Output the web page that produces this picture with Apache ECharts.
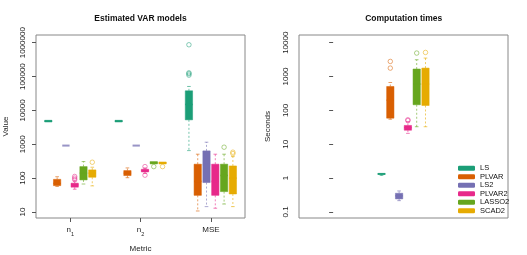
<!DOCTYPE html>
<html>
<head>
<meta charset="utf-8">
<script src="https://cdn.jsdelivr.net/npm/echarts@6/dist/echarts.min.js"></script>
<style>
html,body{margin:0;padding:0;background:#fff;}
#chart{width:527px;height:255px;}
</style>
</head>
<body>
<div id="chart"></div>
<script>
// ---------- data ----------
const metrics = ['n1', 'n2', 'MSE'];
const models = ['LS', 'PLVAR', 'LS2', 'PLVAR2', 'LASSO2', 'SCAD2'];
const leftTicks = [10, 100, 1000, 10000, 100000, 1000000];
const rightTicks = [0.1, 1, 10, 100, 1000, 10000];

// Estimated VAR models: per metric [min, Q1, median, Q3, max]
const estLS     = [[4500, 4550, 4850, 5100, 5150], [4500, 4550, 4850, 5100, 5150], [650, 5270, 15000, 38000, 51000]];
const estPLVAR  = [[57, 60, 70, 92, 110], [103, 119, 140, 167, 200], [10.7, 31, 80, 258, 509]];
const estLS2    = [[915, 915, 915, 915, 915], [915, 915, 915, 915, 915], [14.4, 74, 250, 638, 1150]];
const estPLVAR2 = [[47, 54, 63, 71, 83], [138, 152, 166, 183, 200], [12.9, 31, 80, 258, 509]];
const estLASSO2 = [[67, 88.5, 140, 219, 308], [255, 263, 285, 308, 315], [17.2, 40, 120, 258, 509]];
const estSCAD2  = [[59, 106, 140, 175, 210], [255, 262, 285, 300, 310], [14.4, 34, 100, 229, 433]];

// outliers per metric
const outLS     = [[], [], [870000, 129000, 121000, 110000]];
const outPLVAR  = [[], [], []];
const outLS2    = [[], [], []];
const outPLVAR2 = [[112, 100, 90], [219, 122], []];
const outLASSO2 = [[], [219], [820]];
const outSCAD2  = [[295], [219], [584, 530]];

// Computation times (seconds): [min, Q1, median, Q3, max]
const timeLS     = [1.2, 1.28, 1.33, 1.38, 1.42];
const timePLVAR  = [55, 59, 200, 509, 668];
const timeLS2    = [0.216, 0.243, 0.3, 0.357, 0.418];
const timePLVAR2 = [21, 26, 31, 36, 46];
const timeLASSO2 = [33, 147, 600, 1670, 3140];
const timeSCAD2  = [33, 140, 600, 1780, 3520];

const tOutLS     = [];
const tOutPLVAR  = [2800, 1780];
const tOutLS2    = [];
const tOutPLVAR2 = [53, 50];
const tOutLASSO2 = [4950];
const tOutSCAD2  = [5160];

// ---------- assembly ----------
const colors = ['#1B9E77', '#D95F02', '#7570B3', '#E7298A', '#66A61E', '#E6AB02'];
const estAll = [estLS, estPLVAR, estLS2, estPLVAR2, estLASSO2, estSCAD2];
const outAll = [outLS, outPLVAR, outLS2, outPLVAR2, outLASSO2, outSCAD2];
const timeAll = [timeLS, timePLVAR, timeLS2, timePLVAR2, timeLASSO2, timeSCAD2];
const tOutAll = [tOutLS, tOutPLVAR, tOutLS2, tOutPLVAR2, tOutLASSO2, tOutSCAD2];

const STEP = 0.125, BOXW = 0.104;
const lg = Math.log10;
function rgba(hex, a) {
  const n = parseInt(hex.slice(1), 16);
  return 'rgba(' + ((n >> 16) & 255) + ',' + ((n >> 8) & 255) + ',' + (n & 255) + ',' + a + ')';
}
function offset(i) { return (i - 2.5) * STEP; }

function renderBox(params, api) {
  const x = api.value(0);
  const v = [1, 2, 3, 4, 5].map(k => api.value(k));
  const w = api.size([BOXW, 0])[0];
  const color = api.visual('color');
  const p = v.map(val => api.coord([x, val]));
  const cx = p[0][0];
  const light = rgba(color, 0.6);
  const children = [];
  const dash = {stroke: light, lineWidth: 1, lineDash: [2, 2]};
  const solid = {stroke: light, lineWidth: 1};
  if (p[4][1] < p[3][1] - 0.5) {
    children.push({type: 'line', shape: {x1: cx, y1: p[3][1], x2: cx, y2: p[4][1]}, style: dash});
    children.push({type: 'line', shape: {x1: cx - w / 4, y1: p[4][1], x2: cx + w / 4, y2: p[4][1]}, style: solid});
  }
  if (p[0][1] > p[1][1] + 0.5) {
    children.push({type: 'line', shape: {x1: cx, y1: p[1][1], x2: cx, y2: p[0][1]}, style: dash});
    children.push({type: 'line', shape: {x1: cx - w / 4, y1: p[0][1], x2: cx + w / 4, y2: p[0][1]}, style: solid});
  }
  const h = p[1][1] - p[3][1];
  if (h > 0.5) {
    children.push({type: 'rect', shape: {x: cx - w / 2, y: p[3][1], width: w, height: h},
      style: {fill: color, stroke: rgba(color, 0.5), lineWidth: 1}});
    children.push({type: 'line', shape: {x1: cx - w / 2, y1: p[2][1], x2: cx + w / 2, y2: p[2][1]},
      style: {stroke: color, lineWidth: 1.5}});
  } else {
    children.push({type: 'line', shape: {x1: cx - w / 2, y1: p[2][1], x2: cx + w / 2, y2: p[2][1]},
      style: {stroke: rgba(color, 0.75), lineWidth: 2}});
  }
  return {type: 'group', children};
}

const series = [];
models.forEach((m, i) => {
  const estData = estAll[i].map((s, g) => [g + 1 + offset(i)].concat(s.map(lg)));
  series.push({name: m, type: 'custom', xAxisIndex: 0, yAxisIndex: 0, renderItem: renderBox,
    itemStyle: {color: colors[i]}, data: estData, silent: true, z: 3});
  const timeData = [[1 + offset(i)].concat(timeAll[i].map(lg))];
  series.push({name: m, type: 'custom', xAxisIndex: 1, yAxisIndex: 1, renderItem: renderBox,
    itemStyle: {color: colors[i]}, data: timeData, silent: true, z: 3});
  const outPts = [];
  outAll[i].forEach((arr, g) => arr.forEach(val => outPts.push([g + 1 + offset(i), lg(val)])));
  series.push({name: m + ' outliers', type: 'scatter', xAxisIndex: 0, yAxisIndex: 0, symbol: 'circle',
    symbolSize: 4.5, itemStyle: {color: 'transparent', borderColor: rgba(colors[i], 0.65), borderWidth: 1},
    data: outPts, silent: true, z: 4});
  const tPts = tOutAll[i].map(val => [1 + offset(i), lg(val)]);
  series.push({name: m + ' outliers', type: 'scatter', xAxisIndex: 1, yAxisIndex: 1, symbol: 'circle',
    symbolSize: 4.5, itemStyle: {color: 'transparent', borderColor: rgba(colors[i], 0.65), borderWidth: 1},
    data: tPts, silent: true, z: 4});
});

function fmtTick(v) { return String(Number(Math.pow(10, v).toPrecision(6))); }

function yAxis(idx, ticks, min, max) {
  const vals = ticks.map(lg);
  return {
    gridIndex: idx, type: 'value', min: min, max: max,
    axisLine: {show: false}, splitLine: {show: false},
    axisTick: {show: true, customValues: vals, length: 4, lineStyle: {color: '#555', width: 1}},
    axisLabel: {customValues: vals, formatter: fmtTick, rotate: 90, fontSize: 8, color: '#222',
      margin: 9.5, align: 'center', verticalAlign: 'bottom'}
  };
}

const option = {
  backgroundColor: '#fff',
  animation: false,
  textStyle: {fontFamily: 'Liberation Sans'},
  grid: [
    {left: 36, top: 35, width: 209, height: 183, show: true, borderColor: '#888', borderWidth: 1},
    {left: 299, top: 35, width: 209, height: 183, show: true, borderColor: '#888', borderWidth: 1}
  ],
  xAxis: [
    {gridIndex: 0, type: 'value', min: 0.512, max: 3.485,
      axisLine: {show: false}, splitLine: {show: false},
      axisTick: {show: true, customValues: [1, 2, 3], length: 4, lineStyle: {color: '#555'}},
      axisLabel: {customValues: [1, 2, 3], margin: 8, color: '#222', fontSize: 8,
        formatter: v => {
          const s = metrics[Math.round(v) - 1];
          if (s === 'n1') return '{m|n}{s|1}';
          if (s === 'n2') return '{m|n}{s|2}';
          return '{m|' + s + '}';
        },
        rich: {
          m: {fontSize: 8, lineHeight: 11, verticalAlign: 'top', color: '#222'},
          s: {fontSize: 5.5, lineHeight: 11, verticalAlign: 'bottom', color: '#222'}
        }}},
    {gridIndex: 1, type: 'value', min: -0.485, max: 2.485,
      axisLine: {show: false}, splitLine: {show: false}, axisTick: {show: false}, axisLabel: {show: false}}
  ],
  yAxis: [
    yAxis(0, leftTicks, 0.822, 6.228),
    yAxis(1, rightTicks, -1.178, 4.228)
  ],
  legend: {
    data: models.map(m => ({name: m, icon: 'roundRect'})),
    orient: 'vertical', left: 453, top: 159,
    itemWidth: 17, itemHeight: 5, itemGap: 0,
    textStyle: {fontSize: 7.5, lineHeight: 8.5, color: '#111', padding: [0, 0, 0, 0]},
    selectedMode: false
  },
  graphic: [
    {type: 'text', x: 140.5, y: 18.5, style: {text: 'Estimated VAR models', font: 'bold 8.5px "Liberation Sans"', fill: '#111', textAlign: 'center', textVerticalAlign: 'middle'}},
    {type: 'text', x: 403.7, y: 18.5, style: {text: 'Computation times', font: 'bold 8.5px "Liberation Sans"', fill: '#111', textAlign: 'center', textVerticalAlign: 'middle'}},
    {type: 'text', x: 140.5, y: 249, style: {text: 'Metric', font: '8px "Liberation Sans"', fill: '#222', textAlign: 'center', textVerticalAlign: 'middle'}},
    {type: 'text', x: 6, y: 126.5, rotation: Math.PI / 2, style: {text: 'Value', font: '8px "Liberation Sans"', fill: '#222', textAlign: 'center', textVerticalAlign: 'middle'}},
    {type: 'text', x: 268, y: 126.5, rotation: Math.PI / 2, style: {text: 'Seconds', font: '8px "Liberation Sans"', fill: '#222', textAlign: 'center', textVerticalAlign: 'middle'}}
  ],
  series: series
};

const chart = echarts.init(document.getElementById('chart'), null, {renderer: 'canvas'});
chart.setOption(option);
</script>
</body>
</html>
